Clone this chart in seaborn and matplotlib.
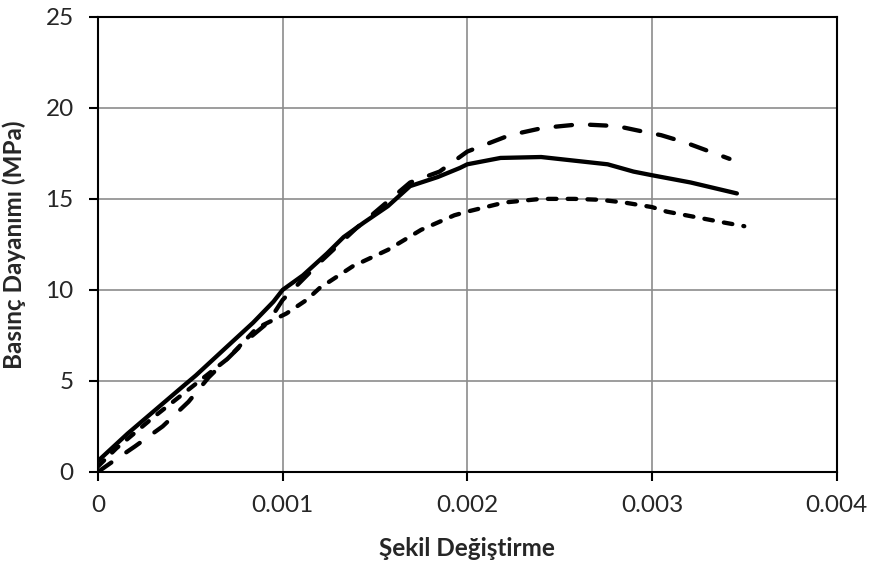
import numpy as np
import pandas as pd
import matplotlib
matplotlib.use("Agg")
import matplotlib.pyplot as plt
import seaborn as sns

# strain / stress readings for the three specimens
strain_a = [0, 0.00016, 0.00031, 0.00046, 0.00053, 0.00069, 0.00084, 0.00095, 0.001,
            0.00111, 0.00124, 0.00133, 0.00144, 0.00157, 0.00169, 0.00184, 0.00196,
            0.002, 0.00218, 0.0024, 0.00258, 0.00276, 0.0029, 0.003, 0.00321, 0.00346]
stress_a = [0.6, 2.1, 3.4, 4.7, 5.3, 6.8, 8.2, 9.35, 10.0, 10.8, 12.0, 12.9, 13.7,
            14.6, 15.7, 16.2, 16.7, 16.9, 17.25, 17.3, 17.1, 16.9, 16.5, 16.3, 15.9, 15.3]

strain_b = [0, 0.00007, 0.0002, 0.00035, 0.00049, 0.0006, 0.00079, 0.00092, 0.001,
            0.0012, 0.0014, 0.00169, 0.00185, 0.002, 0.00223, 0.00241, 0.00261,
            0.00281, 0.00295, 0.00305, 0.00318, 0.00342]
stress_b = [0, 0.5, 1.4, 2.5, 3.85, 5.2, 7.1, 8.2, 9.45, 11.5, 13.4, 15.9, 16.5,
            17.6, 18.5, 18.9, 19.1, 19.0, 18.7, 18.5, 18.1, 17.2]

strain_c = [0, 0.0001, 0.0003, 0.0005, 0.0006, 0.0007, 0.00086, 0.00102, 0.00113,
            0.0012, 0.00138, 0.00157, 0.00175, 0.00193, 0.002, 0.0022, 0.0024,
            0.00258, 0.00272, 0.00285, 0.003, 0.00308, 0.00321, 0.00339, 0.0035]
stress_c = [0.3, 1.3, 3.0, 4.6, 5.4, 6.2, 7.9, 8.7, 9.45, 10.1, 11.3, 12.2, 13.3,
            14.1, 14.3, 14.8, 15.0, 15.0, 14.95, 14.8, 14.55, 14.3, 14.05, 13.7, 13.5]

x_ticks = [0, 0.001, 0.002, 0.003, 0.004]
x_tick_labels = ["0", "0.001", "0.002", "0.003", "0.004"]
y_ticks = [0, 5, 10, 15, 20, 25]

sns.set_style("white")
plt.rcParams['font.family'] = ['Lato', 'DejaVu Sans']

fig = plt.figure(figsize=(8.71, 5.72), dpi=100)
ax = fig.add_axes([0.1125, 0.175, 0.848, 0.7955])

df_a = pd.DataFrame({"x": strain_a, "y": stress_a})
df_b = pd.DataFrame({"x": strain_b, "y": stress_b})
df_c = pd.DataFrame({"x": strain_c, "y": stress_c})

lw = 3.1

sns.lineplot(data=df_b, x="x", y="y", ax=ax, color="black", lw=lw,
             sort=False, estimator=None)
ax.lines[-1].set_dashes((3.8, 4.2))
ax.lines[-1].set_dash_capstyle("round")

sns.lineplot(data=df_c, x="x", y="y", ax=ax, color="black", lw=lw,
             sort=False, estimator=None)
ax.lines[-1].set_dashes((2.0, 2.6))
ax.lines[-1].set_dash_capstyle("round")

sns.lineplot(data=df_a, x="x", y="y", ax=ax, color="black", lw=lw,
             sort=False, estimator=None)
ax.lines[-1].set_solid_capstyle("round")
ax.lines[-1].set_solid_joinstyle("round")

ax.set_xlim(0, 0.004)
ax.set_ylim(0, 25)
ax.set_xticks(x_ticks)
ax.set_xticklabels(x_tick_labels)
ax.set_yticks(y_ticks)

ax.grid(True, color="#8c8c8c", lw=1.2)
ax.set_axisbelow(True)
for s in ax.spines.values():
    s.set_color("black")
    s.set_linewidth(1.5)

ax.tick_params(axis="both", direction="out", length=6.5, width=1.5, color="black",
               labelsize=17.5, bottom=True, left=True)
ax.tick_params(axis="x", pad=10)
ax.tick_params(axis="y", pad=11)
ax.set_xlabel("Şekil Değiştirme", fontsize=17.5, fontweight="bold", labelpad=15)
ax.set_ylabel("Basınç Dayanımı (MPa)", fontsize=17.5, fontweight="bold", labelpad=14)

fig.savefig("out.png", dpi=100)
